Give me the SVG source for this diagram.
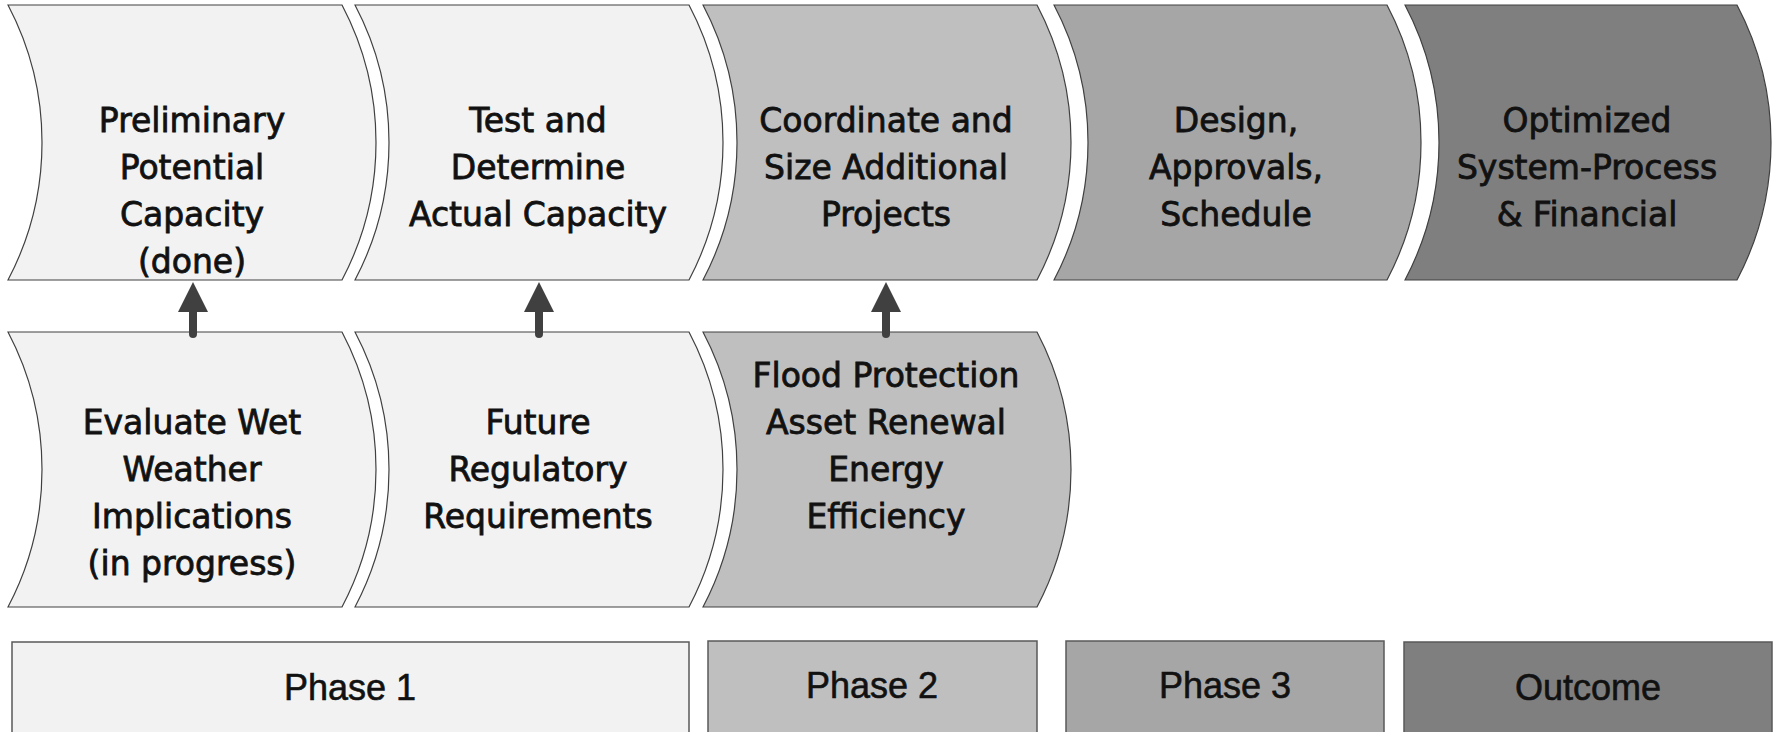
<svg xmlns="http://www.w3.org/2000/svg" width="1781" height="732" viewBox="0 0 1781 732">
<defs>
<style>
.chev{stroke:#404040;stroke-width:1.2}
.box{stroke:#595959;stroke-width:1.5}
.c1{fill:#f2f2f2}.c2{fill:#bfbfbf}.c3{fill:#a6a6a6}.c4{fill:#7f7f7f}
.t{font-family:"DejaVu Sans",sans-serif;font-size:33px;fill:#111;stroke:#111;stroke-width:0.8;text-anchor:middle}
.p{font-family:"Liberation Sans",Arial,sans-serif;font-size:36px;fill:#111;stroke:#111;stroke-width:0.6;text-anchor:middle}
.arr{stroke:#404040;stroke-width:8;stroke-linecap:round;fill:none}
</style>
<marker id="ah" markerUnits="userSpaceOnUse" markerWidth="32" markerHeight="32" refX="0" refY="16" orient="auto" viewBox="0 0 32 32">
<path d="M0,1 L30,16 L0,31 Z" fill="#404040"/>
</marker>
</defs>
<rect width="1781" height="732" fill="#ffffff"/>

<g id="n-preliminary">
<path class="chev c1" d="M8,5 L342,5 A295,295 0 0 1 342,280 L8,280 A295,295 0 0 0 8,5 Z"/>
<text class="t" x="192" y="132">Preliminary</text>
<text class="t" x="192" y="179">Potential</text>
<text class="t" x="192" y="226">Capacity</text>
<text class="t" x="192" y="273">(done)</text>
</g>
<g id="n-test">
<path class="chev c1" d="M355,5 L689,5 A295,295 0 0 1 689,280 L355,280 A295,295 0 0 0 355,5 Z"/>
<text class="t" x="538" y="132">Test and</text>
<text class="t" x="538" y="179">Determine</text>
<text class="t" x="538" y="226">Actual Capacity</text>
</g>
<g id="n-coordinate">
<path class="chev c2" d="M703,5 L1037,5 A295,295 0 0 1 1037,280 L703,280 A295,295 0 0 0 703,5 Z"/>
<text class="t" x="886" y="132">Coordinate and</text>
<text class="t" x="886" y="179">Size Additional</text>
<text class="t" x="886" y="226">Projects</text>
</g>
<g id="n-design">
<path class="chev c3" d="M1054,5 L1387,5 A295,295 0 0 1 1387,280 L1054,280 A295,295 0 0 0 1054,5 Z"/>
<text class="t" x="1236" y="132">Design,</text>
<text class="t" x="1236" y="179">Approvals,</text>
<text class="t" x="1236" y="226">Schedule</text>
</g>
<g id="n-optimized">
<path class="chev c4" d="M1405,5 L1737,5 A295,295 0 0 1 1737,280 L1405,280 A295,295 0 0 0 1405,5 Z"/>
<text class="t" x="1587" y="132">Optimized</text>
<text class="t" x="1587" y="179">System-Process</text>
<text class="t" x="1587" y="226">&amp; Financial</text>
</g>

<g id="n-evaluate">
<path class="chev c1" d="M8,332 L342,332 A295,295 0 0 1 342,607 L8,607 A295,295 0 0 0 8,332 Z"/>
<text class="t" x="192" y="434">Evaluate Wet</text>
<text class="t" x="192" y="481">Weather</text>
<text class="t" x="192" y="528">Implications</text>
<text class="t" x="192" y="575">(in progress)</text>
</g>
<g id="n-future">
<path class="chev c1" d="M355,332 L689,332 A295,295 0 0 1 689,607 L355,607 A295,295 0 0 0 355,332 Z"/>
<text class="t" x="538" y="434">Future</text>
<text class="t" x="538" y="481">Regulatory</text>
<text class="t" x="538" y="528">Requirements</text>
</g>
<g id="n-flood">
<path class="chev c2" d="M703,332 L1037,332 A295,295 0 0 1 1037,607 L703,607 A295,295 0 0 0 703,332 Z"/>
<text class="t" x="886" y="387">Flood Protection</text>
<text class="t" x="886" y="434">Asset Renewal</text>
<text class="t" x="886" y="481">Energy</text>
<text class="t" x="886" y="528">Efficiency</text>
</g>

<g id="n-phase1">
<rect class="box c1" x="12" y="642" width="677" height="110"/>
<text class="p" x="350" y="700">Phase 1</text>
</g>
<g id="n-phase2">
<rect class="box c2" x="708" y="641" width="329" height="110"/>
<text class="p" x="872" y="698">Phase 2</text>
</g>
<g id="n-phase3">
<rect class="box c3" x="1066" y="641" width="318" height="110"/>
<text class="p" x="1225" y="698">Phase 3</text>
</g>
<g id="n-outcome">
<rect class="box c4" x="1404" y="642" width="368" height="110"/>
<text class="p" x="1588" y="700">Outcome</text>
</g>

<g id="connectors">
<line class="arr" x1="193" y1="334" x2="193" y2="312" marker-end="url(#ah)"/>
<line class="arr" x1="539" y1="334" x2="539" y2="312" marker-end="url(#ah)"/>
<line class="arr" x1="886" y1="334" x2="886" y2="312" marker-end="url(#ah)"/>
</g>
</svg>
